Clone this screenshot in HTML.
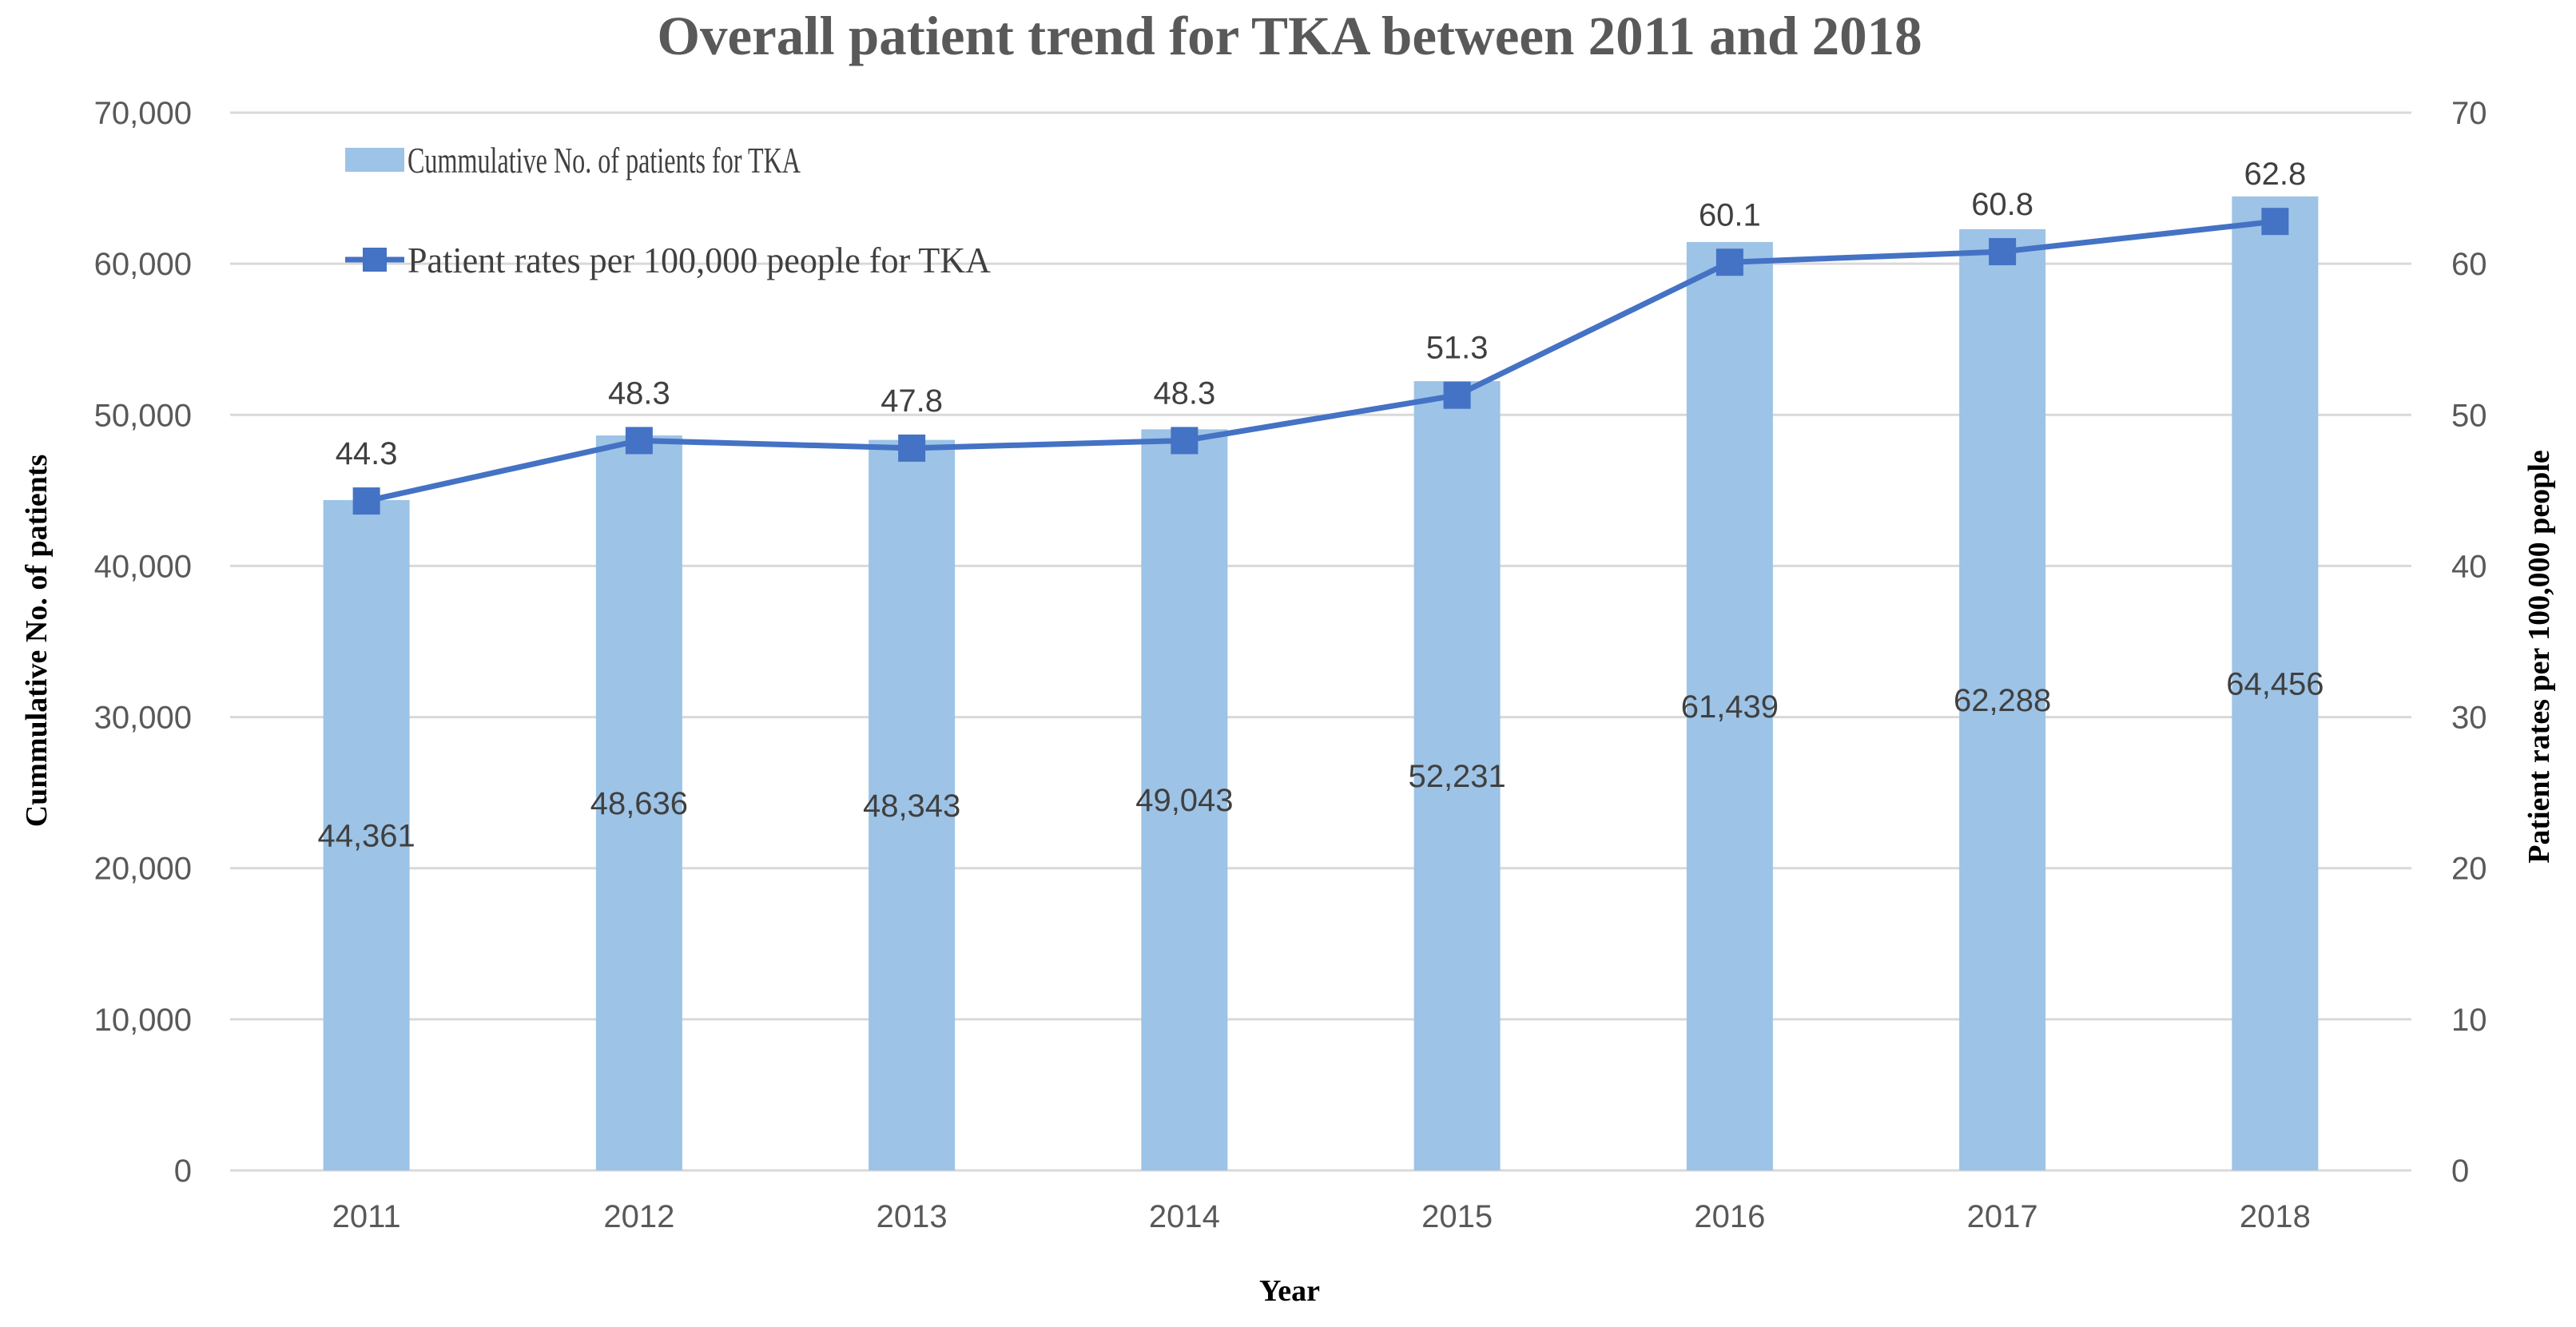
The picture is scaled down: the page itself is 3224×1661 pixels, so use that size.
<!DOCTYPE html>
<html><head><meta charset="utf-8"><style>
html,body{margin:0;padding:0;background:#fff}
svg{display:block}
.tick{font-family:"Liberation Sans",sans-serif;font-size:40px;fill:#595959}
.dl{font-family:"Liberation Sans",sans-serif;font-size:40px;fill:#404040}
.ser{font-family:"Liberation Serif",serif}
</style></head><body>
<svg id="chart" width="3224" height="1661" viewBox="0 0 3224 1661" xmlns="http://www.w3.org/2000/svg">
<text class="ser" x="1614" y="68" text-anchor="middle" font-size="69" font-weight="bold" fill="#595959">Overall patient trend for TKA between 2011 and 2018</text>
<g id="grid"></g><g id="bars"></g><g id="line"></g><g id="labels"></g>
<g>
<rect x="432" y="185" width="74" height="30" fill="#9dc3e6"/>
<text class="ser" x="510" y="216" font-size="46" fill="#404040" textLength="492" lengthAdjust="spacingAndGlyphs">Cummulative No. of patients for TKA</text>
<line x1="432" y1="325" x2="506" y2="325" stroke="#4472c4" stroke-width="7"/>
<rect x="454" y="310" width="30" height="30" fill="#4472c4"/>
<text class="ser" x="510" y="341" font-size="46" fill="#404040" textLength="730" lengthAdjust="spacingAndGlyphs">Patient rates per 100,000 people for TKA</text>
</g>
<text class="ser" transform="translate(58,802) rotate(-90)" text-anchor="middle" font-size="38" font-weight="bold" fill="#000">Cummulative No. of patients</text>
<text class="ser" transform="translate(3190,822) rotate(-90)" text-anchor="middle" font-size="38" font-weight="bold" fill="#000">Patient rates per 100,000 people</text>
<text class="ser" x="1614" y="1628" text-anchor="middle" font-size="38" font-weight="bold" fill="#000">Year</text>
</svg>
<script>
const categories=["2011","2012","2013","2014","2015","2016","2017","2018"];
const patients=[44361,48636,48343,49043,52231,61439,62288,64456];
const rates=[44.3,48.3,47.8,48.3,51.3,60.1,60.8,62.8];
const leftTicks=[0,10000,20000,30000,40000,50000,60000,70000];
const rightTicks=[0,10,20,30,40,50,60,70];
const NS="http://www.w3.org/2000/svg";
const X0=288,X1=3018,Y0=1465,Y1=141;
const yL=v=>Y0-(v/70000)*(Y0-Y1);
const yR=v=>Y0-(v/70)*(Y0-Y1);
const bw=(X1-X0)/categories.length;
const xC=i=>X0+bw*(i+0.5);
function mk(tag,attrs,parent,txt){const e=document.createElementNS(NS,tag);for(const k in attrs)e.setAttribute(k,attrs[k]);if(txt!==undefined)e.textContent=txt;document.getElementById(parent).appendChild(e);return e;}
leftTicks.forEach((t,i)=>{
  const g=mk('line',{x1:X0,x2:X1,y1:yL(t),y2:yL(t),stroke:'#d9d9d9','stroke-width':3},'grid');
  
  
  const l=mk('text',{x:240,y:yL(t)+14,'text-anchor':'end',class:'tick'},'labels',t.toLocaleString('en-US'));
  
  
});
rightTicks.forEach(t=>{
  const l=mk('text',{x:3068,y:yR(t)+14,class:'tick'},'labels',String(t));
  
  
});
categories.forEach((c,i)=>{
  const w=108,h=Y0-yL(patients[i]);
  const b=mk('rect',{x:xC(i)-w/2,y:yL(patients[i]),width:w,height:h,fill:'#9dc3e6'},'bars');
  
  
  const bl=mk('text',{x:xC(i),y:(Y0+yL(patients[i]))/2+14,'text-anchor':'middle',class:'dl'},'labels',patients[i].toLocaleString('en-US'));
  
  
  const xl=mk('text',{x:xC(i),y:1536,'text-anchor':'middle',class:'tick'},'labels',c);
  
  
});
const pts=rates.map((r,i)=>xC(i)+','+yR(r)).join(' ');
const pl=mk('polyline',{points:pts,fill:'none',stroke:'#4472c4','stroke-width':7,'stroke-linejoin':'round'},'line');


rates.forEach((r,i)=>{
  const m=mk('rect',{x:xC(i)-17,y:yR(r)-17,width:34,height:34,fill:'#4472c4'},'line');
  
  
  const t=mk('text',{x:xC(i),y:yR(r)-46,'text-anchor':'middle',class:'dl'},'labels',r.toFixed(1));
  
  
});
</script>
</body></html>
